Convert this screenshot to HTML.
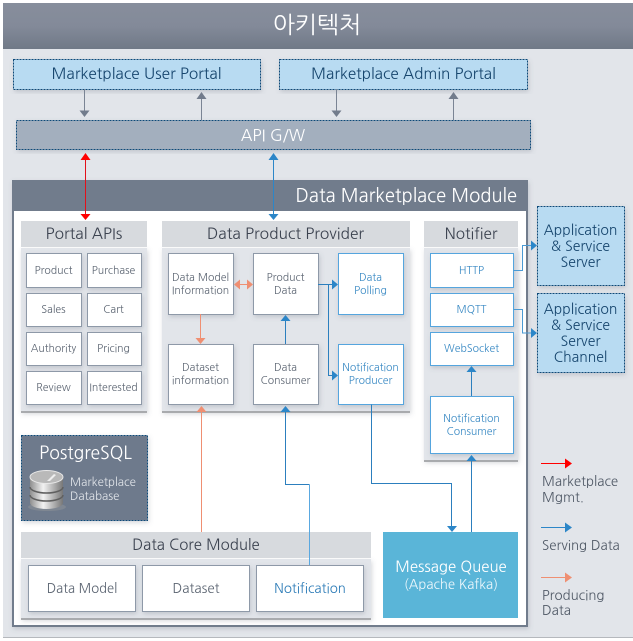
<!DOCTYPE html>
<html><head><meta charset="utf-8">
<style>
html,body{margin:0;padding:0;background:#fff}
svg{display:block}
text{font-family:"NanumGothic","Liberation Sans","Noto Sans CJK KR",sans-serif;text-anchor:middle}
.s{fill:#5d6673;font-size:10.500px}
.b{fill:#3a8ac4;font-size:10.500px}
.h{fill:#3c4350;font-size:15.300px}
.w{fill:#fff;stroke:#8e99a8;stroke-width:1}
.wb{fill:#fff;stroke:#55a5de;stroke-width:1}
.d{stroke:#0c4a78;stroke-width:1;stroke-dasharray:2 1}
.sh{filter:url(#sh)}
</style></head><body>
<svg width="633" height="641" viewBox="0 0 633 641" xmlns="http://www.w3.org/2000/svg">
<defs>
<linearGradient id="hd" x1="0" y1="0" x2="0" y2="1"><stop offset="0" stop-color="#878e9c"/><stop offset=".5" stop-color="#838a99"/><stop offset="1" stop-color="#707987"/></linearGradient>
<linearGradient id="cy" x1="0" y1="0" x2="1" y2="0"><stop offset="0" stop-color="#8f8f8f"/><stop offset=".4" stop-color="#f2f2f2"/><stop offset="1" stop-color="#777"/></linearGradient>
<filter id="sh" x="-10%" y="-10%" width="120%" height="125%"><feDropShadow dx="1" dy="2" stdDeviation="2.500" flood-color="#5a6474" flood-opacity=".25"/></filter>
</defs>
<rect x="0" y="0" width="633" height="641" fill="#fff"/>
<rect x="3" y="3" width="630" height="635" fill="#e2e5ea"/>
<rect x="3" y="637" width="630" height="1" fill="#b5b8bd"/>
<rect x="3" y="3" width="630" height="46" fill="url(#hd)"/>
<text x="317" y="33" fill="#fff" font-size="23.500">아키텍처</text>

<!-- portals -->
<rect class="d sh" x="13.500" y="59.500" width="247" height="30" fill="#b8dbf2"/>
<text x="136.500" y="79" fill="#17466e" font-size="15.400">Marketplace User Portal</text>
<rect class="d sh" x="279.500" y="59.500" width="248" height="30" fill="#b8dbf2"/>
<text x="403.500" y="79" fill="#17466e" font-size="15.300">Marketplace Admin Portal</text>
<rect class="d sh" x="16.500" y="120.500" width="514" height="29" fill="#a3afbe"/>
<text x="273" y="141" fill="#fff" font-size="16">API G/W</text>

<g stroke="#7a8494" stroke-width="1" fill="none">
<path d="M84.500 89V112M201.500 120V97M336.500 89V112M453.500 120V97"/>
</g>
<g fill="#727c8c">
<path d="M79.500 110.500h10l-5 6.500zM196.500 99h10l-5-7zM331.500 110.500h10l-5 6.500zM448.500 99h10l-5-7z"/>
</g>

<!-- module -->
<rect class="sh" x="12" y="180" width="516" height="447" fill="#717c8c"/>
<rect x="14" y="211" width="512" height="414" fill="#fff"/>
<text x="517" y="202" fill="#fff" font-size="18.400" style="text-anchor:end">Data Marketplace Module</text>

<!-- portal APIs -->
<rect x="21" y="248" width="126" height="164" fill="#e2e5ea" class="sh"/>
<rect x="21" y="411" width="126" height="2" fill="#a9abae"/>
<rect x="21" y="221" width="126" height="26" fill="#d7dade"/>
<text x="84" y="239" class="h" style="font-size:15.500px">Portal APIs</text>
<g class="sh">
<rect class="w" x="26.500" y="253.500" width="55" height="34"/>
<rect class="w" x="87.500" y="253.500" width="54" height="34"/>
<rect class="w" x="26.500" y="293.500" width="55" height="33"/>
<rect class="w" x="87.500" y="293.500" width="54" height="33"/>
<rect class="w" x="26.500" y="332.500" width="55" height="33"/>
<rect class="w" x="87.500" y="332.500" width="54" height="33"/>
<rect class="w" x="26.500" y="371.500" width="55" height="33"/>
<rect class="w" x="87.500" y="371.500" width="54" height="33"/>
</g>
<text class="s" x="53.500" y="274">Product</text>
<text class="s" x="113.500" y="274">Purchase</text>
<text class="s" x="53.500" y="313">Sales</text>
<text class="s" x="113.500" y="313">Cart</text>
<text class="s" x="53.500" y="352">Authority</text>
<text class="s" x="113.500" y="352">Pricing</text>
<text class="s" x="53.500" y="391">Review</text>
<text class="s" x="113.500" y="391">Interested</text>

<!-- provider -->
<rect x="162" y="248" width="248" height="164" fill="#e2e5ea" class="sh"/>
<rect x="162" y="411" width="248" height="2" fill="#a9abae"/>
<rect x="162" y="221" width="248" height="26" fill="#d7dade"/>
<text x="285.500" y="239" class="h" style="font-size:15.500px">Data Product Provider</text>
<g class="sh">
<rect class="w" x="168.500" y="253.500" width="65" height="61"/>
<rect class="w" x="253.500" y="253.500" width="65" height="61"/>
<rect class="w" x="168.500" y="344.500" width="65" height="60"/>
<rect class="w" x="253.500" y="344.500" width="65" height="60"/>
<rect class="wb" x="338.500" y="253.500" width="65" height="61"/>
<rect class="wb" x="338.500" y="344.500" width="65" height="60"/>
</g>
<text class="s" x="200.500" y="281">Data Model</text>
<text class="s" x="200.500" y="294">Information</text>
<text class="s" x="285.500" y="281">Product</text>
<text class="s" x="285.500" y="294">Data</text>
<text class="s" x="200.500" y="371">Dataset</text>
<text class="s" x="200.500" y="384">information</text>
<text class="s" x="285.500" y="371">Data</text>
<text class="s" x="285.500" y="384">Consumer</text>
<text class="b" x="370.500" y="281">Data</text>
<text class="b" x="370.500" y="294">Polling</text>
<text class="b" x="370.500" y="371">Notification</text>
<text class="b" x="370.500" y="384">Producer</text>

<!-- notifier -->
<rect x="424" y="248" width="94" height="213" fill="#e2e5ea" class="sh"/>
<rect x="424" y="460" width="94" height="2" fill="#a9abae"/>
<rect x="424" y="221" width="94" height="26" fill="#d7dade"/>
<text x="471" y="239" class="h">Notifier</text>
<g class="sh">
<rect class="wb" x="430.500" y="253.500" width="83" height="34"/>
<rect class="wb" x="430.500" y="293.500" width="83" height="33"/>
<rect class="wb" x="430.500" y="332.500" width="83" height="33"/>
<rect class="wb" x="430.500" y="396.500" width="83" height="57"/>
</g>
<text class="b" x="471.500" y="274">HTTP</text>
<text class="b" x="471.500" y="313">MQTT</text>
<text class="b" x="471.500" y="352">WebSocket</text>
<text class="b" x="471.500" y="422">Notification</text>
<text class="b" x="471.500" y="435">Consumer</text>

<!-- app servers -->
<rect class="d sh" x="537.500" y="206.500" width="87" height="79" fill="#b8dbf2"/>
<text x="580.500" y="235" fill="#17466e" font-size="14">Application</text>
<text x="580.500" y="251" fill="#17466e" font-size="14">&amp; Service</text>
<text x="580.500" y="267" fill="#17466e" font-size="14">Server</text>
<rect class="d sh" x="537.500" y="293.500" width="87" height="79" fill="#b8dbf2"/>
<text x="580.500" y="314" fill="#17466e" font-size="14">Application</text>
<text x="580.500" y="330" fill="#17466e" font-size="14">&amp; Service</text>
<text x="580.500" y="346" fill="#17466e" font-size="14">Server</text>
<text x="580.500" y="362" fill="#17466e" font-size="14">Channel</text>

<!-- postgres -->
<rect class="d sh" x="21.500" y="435.500" width="126" height="85" fill="#6e7a8c"/>
<text x="85.500" y="459" fill="#fff" font-size="17.500">PostgreSQL</text>
<g>
<ellipse cx="47" cy="507" rx="19" ry="4" fill="#8a8f96" opacity=".6"/>
<path d="M30 478v25a16.500 6 0 0 0 33 0v-25z" fill="url(#cy)"/>
<g fill="none" stroke="#5f5f5f" stroke-width="1.500">
<path d="M30 487a16.500 6 0 0 0 33 0M30 495a16.500 6 0 0 0 33 0"/>
</g>
<ellipse cx="46.500" cy="477" rx="16.500" ry="6.500" fill="#b9b9b9" stroke="#e8e8e8"/>
<path d="M47 481l7-7 2 1-6 6z" fill="#eee"/>
</g>
<text x="70" y="486" fill="#dfe3e8" font-size="11.500" style="text-anchor:start">Marketplace</text>
<text x="70" y="500" fill="#dfe3e8" font-size="11.500" style="text-anchor:start">Database</text>

<!-- data core -->
<rect x="21" y="559" width="350" height="60" fill="#e2e5ea" class="sh"/>
<rect x="21" y="618" width="350" height="2" fill="#a9abae"/>
<rect x="21" y="532" width="350" height="26" fill="#d7dade"/>
<text x="196" y="550" class="h" style="font-size:15px">Data Core Module</text>
<g class="sh">
<rect class="w" x="28.500" y="565.500" width="107" height="46"/>
<rect class="w" x="142.500" y="565.500" width="107" height="46"/>
<rect class="w" x="256.500" y="565.500" width="107" height="46"/>
</g>
<text x="82" y="593" fill="#5d6673" font-size="13">Data Model</text>
<text x="196" y="593" fill="#5d6673" font-size="13.400">Dataset</text>
<text x="310" y="593" fill="#2f7db8" font-size="13.300">Notification</text>

<!-- kafka -->
<rect x="383" y="532" width="135" height="86" fill="#5ab5d8"/>
<text x="451" y="572" fill="#fff" font-size="15">Message Queue</text>
<text x="451" y="589" fill="#eaf6fb" font-size="13.200">(Apache Kafka)</text>

<!-- connectors -->
<path d="M85.500 158V215" stroke="#e2101a" stroke-width="1" fill="none"/>
<path d="M80.500 160h10l-5-7zM80.500 214h10l-5 6z" fill="#ff0000"/>
<path d="M273.500 158V215" stroke="#2c86c8" stroke-width="1" fill="none"/>
<path d="M268.500 160h10l-5-7zM268.500 214h10l-5 6z" fill="#2c86c8"/>

<g fill="none" stroke="#ef8f72" stroke-width="1">
<path d="M238 284.500H249M200.500 314V340M201.500 532V411"/>
</g>
<g fill="#ef8f72">
<path d="M240 279.500v10l-6-5zM247 279.500v10l6-5zM195.500 338h10l-5 6zM196.500 412h10l-5-6z"/>
</g>
<g fill="none" stroke="#2c7fbe" stroke-width="1">
<path d="M285.500 344V320M318 284.500H333M328.500 284.500V375.500H333M371.500 404.500V483.500H451.500V526M471.500 532V460M471.500 396V372M285.500 411V484.500H309.500"/>
</g>
<path d="M309.500 484.500V565" fill="none" stroke="#5aa8e0" stroke-width="1"/>
<path d="M513.500 270.500H522.500V245.500H533M513.500 309.500H522.500V333H533" fill="none" stroke="#4a9ad4" stroke-width="1"/>
<g fill="#2c86c8">
<path d="M280.500 321h10l-5-6zM332 279.500v10l6-5zM332 370.500v10l6-5zM447 526h10l-5 6zM466.500 461h10l-5-6zM466.500 372h10l-5-6zM280.500 412h10l-5-6zM531 240.500v10l6-5zM531 328v10l6-5z"/>
</g>

<!-- legend -->
<path d="M541 463.500H567" stroke="#f00" stroke-width="1"/>
<path d="M565 458.500v10l7-5z" fill="#f00"/>
<path d="M541 527.500H567" stroke="#2c86c8" stroke-width="1"/>
<path d="M565 522.500v10l7-5z" fill="#2c86c8"/>
<path d="M541 577.500H567" stroke="#ef8f72" stroke-width="1"/>
<path d="M565 572.500v10l7-5z" fill="#ef8f72"/>
<g fill="#515a67" font-size="13.300">
<text x="542" y="486" style="text-anchor:start">Marketplace</text>
<text x="542" y="502" style="text-anchor:start">Mgmt.</text>
<text x="542" y="550" style="text-anchor:start">Serving Data</text>
<text x="542" y="600" style="text-anchor:start">Producing</text>
<text x="542" y="615" style="text-anchor:start">Data</text>
</g>
</svg>
</body></html>
